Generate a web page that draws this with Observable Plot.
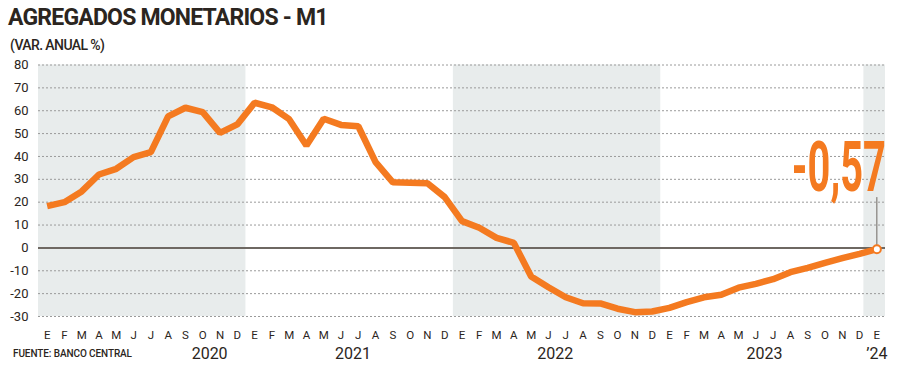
<!DOCTYPE html>
<html>
<head>
<meta charset="utf-8">
<script src="https://cdn.jsdelivr.net/npm/d3@7"></script>
<script src="https://cdn.jsdelivr.net/npm/@observablehq/plot@0.6"></script>
<style>
  body { margin: 0; background: #fff; }
  #wrap { position: relative; width: 900px; height: 370px; overflow: hidden; font-family: Roboto, sans-serif; color: #2b2520; }
  #title { position: absolute; left: 8px; top: 4px; font-size: 23px; font-weight: 700; letter-spacing: -0.8px; white-space: nowrap; }
  #subtitle { position: absolute; left: 10px; top: 37px; font-size: 14px; font-weight: 500; letter-spacing: -0.6px; white-space: nowrap; }
  #chart { position: absolute; left: 0; top: 56px; }
  #source { position: absolute; left: 13px; top: 348px; font-size: 10px; font-weight: 500; letter-spacing: -0.1px; white-space: nowrap; }
</style>
</head>
<body>
<div id="wrap">
  <div id="title">AGREGADOS MONETARIOS - M1</div>
  <div id="subtitle">(VAR. ANUAL %)</div>
  <div id="chart"></div>
  <div id="source">FUENTE: BANCO CENTRAL</div>
</div>
<script>
// Month labels (Jan 2020 .. Jan 2024)
const monthLabels = ["E","F","M","A","M","J","J","A","S","O","N","D",
  "E","F","M","A","M","J","J","A","S","O","N","D",
  "E","F","M","A","M","J","J","A","S","O","N","D",
  "E","F","M","A","M","J","J","A","S","O","N","D",
  "E"];
// M1 annual variation (%)
const m1Values = [18.3, 20.0, 24.7, 32.1, 34.6, 39.7, 41.9, 57.5, 61.3, 59.4, 50.3, 54.0,
  63.5, 61.5, 56.3, 44.8, 56.5, 53.8, 53.2, 37.5, 28.7, 28.5, 28.3, 22.2,
  11.7, 8.8, 4.4, 2.2, -12.5, -17.2, -21.6, -24.2, -24.3, -26.6, -28.1, -27.8,
  -26.2, -23.7, -21.6, -20.5, -17.4, -15.7, -13.7, -10.6, -8.7, -6.5, -4.5, -2.6,
  -0.57];
const yearLabels = ["2020", "2021", "2022", "2023", "\u201924"];
const yearLabelPos = [9.4, 17.7, 29.4, 41.5, 48];
// shaded periods (month index start / end)
const bandStart = [0, 24, 48];
const bandEnd = [11, 35, 48];
const yTicks = [-30, -20, -10, 0, 10, 20, 30, 40, 50, 60, 70, 80];
const lastLabel = "-0,57";

const data = m1Values.map((v, i) => ({i, v}));
const months = monthLabels.map((m, i) => ({i, m}));
const years = yearLabels.map((t, k) => ({t, x: yearLabelPos[k]}));
const bands = bandStart.map((s, k) => ({x1: s - (k === bandStart.length - 1 ? 0.75 : 0.5), x2: bandEnd[k] + 0.5}));
const last = data[data.length - 1];

const orange = "#f47a20";
const ink = "#2b2520";

const plot = Plot.plot({
  width: 900,
  height: 314,
  marginLeft: 38,
  marginRight: 15,
  marginTop: 8.5,
  marginBottom: 54,
  style: {fontFamily: "Roboto, sans-serif", color: ink, background: "transparent"},
  x: {type: "linear", domain: [-0.5, 48.5], axis: null},
  y: {domain: [-30, 80], axis: null},
  marks: [
    Plot.rect(bands, {x1: "x1", x2: "x2", y1: -30, y2: 80, fill: "#e8ecec"}),
    Plot.ruleY(yTicks.filter(d => d !== 0), {stroke: "#9a9a9a", strokeWidth: 1, strokeDasharray: "2,2"}),
    Plot.ruleY([0], {stroke: "#6e6862", strokeWidth: 2}),
    Plot.text(yTicks, {x: -0.5, y: d => d, text: d => String(d), textAnchor: "end", dx: -10, fontSize: 13, fill: ink}),
    Plot.ruleX([last], {x: "i", y1: "v", y2: 22, stroke: "#6e6862", strokeWidth: 1}),
    Plot.line(data, {x: "i", y: "v", stroke: orange, strokeWidth: 6.5, strokeLinejoin: "miter", strokeLinecap: "butt"}),
    Plot.dot([last], {x: "i", y: "v", r: 4, fill: "#fff", stroke: orange, strokeWidth: 2}),
    Plot.text([last], {x: "i", y: 25.1, text: () => lastLabel, textAnchor: "end", lineAnchor: "bottom", dx: 9, fontSize: 71, fontWeight: 700, fill: orange}),
    Plot.text(months, {x: "i", y: -30, text: "m", dy: 19, fontSize: 11.5, fill: ink}),
    Plot.text(years, {x: "x", y: -30, text: "t", dy: 37, fontSize: 16, fill: ink})
  ]
});

document.getElementById("chart").appendChild(plot);

// condense the big end label horizontally (target width ~94px)
d3.select(plot).selectAll("text").filter(function() { return this.textContent === lastLabel; })
  .each(function() {
    const w = this.getComputedTextLength();
    const s = 94 / w;
    const t = this.getAttribute("transform") || "";
    this.setAttribute("transform", t + ` scale(${s},1)`);
  });
</script>
</body>
</html>
